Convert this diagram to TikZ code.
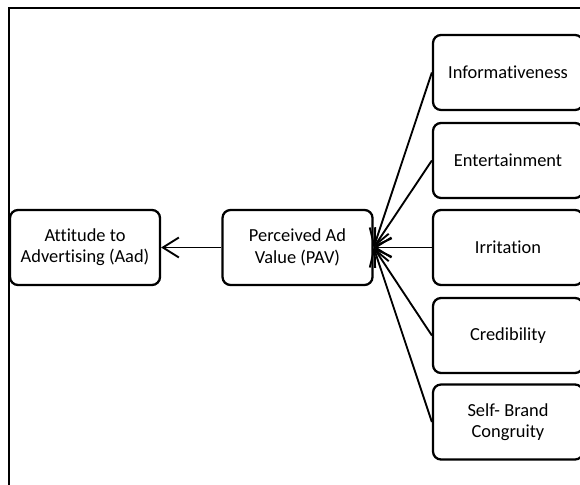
\documentclass[tikz,border=0pt]{standalone}
\usepackage{fontspec}
\setmainfont{Carlito}[Ligatures=NoCommon]
\usetikzlibrary{arrows.meta}
\begin{document}
\begin{tikzpicture}[x=0.75pt,y=-0.75pt,
  box/.style={draw, line width=1.7pt, rounded corners=6pt, minimum width=112.5pt, minimum height=56.25pt, align=center, inner sep=0pt, font=\fontsize{13.8}{16}\selectfont},
  arr/.style={line width=1.4pt, -{Straight Barb[length=12pt,width=15pt,line width=1.4pt]}}]
\useasboundingbox (0,0) rectangle (580,484);
\clip (0,0) rectangle (580,484);
\draw[line width=1.5pt] (8.5,8) rectangle (620,520);
\node[box] (aad) at (85,247.5) {Attitude to\\Advertising (Aad)};
\node[box] (pav) at (297.5,247.5) {Perceived Ad\\Value (PAV)};
\node[box] (inf) at (508,72.5) {Informativeness};
\node[box] (ent) at (508,160.5) {Entertainment};
\node[box] (irr) at (508,247.5) {Irritation};
\node[box] (cre) at (508,335.5) {Credibility};
\node[box] (sbc) at (508,422) {Self- Brand\\Congruity};
\draw[arr] (pav.west) -- (aad.east);
\foreach \n in {inf,ent,irr,cre,sbc}
  \draw[arr] (\n.west) -- (pav.east);
\end{tikzpicture}
\end{document}
